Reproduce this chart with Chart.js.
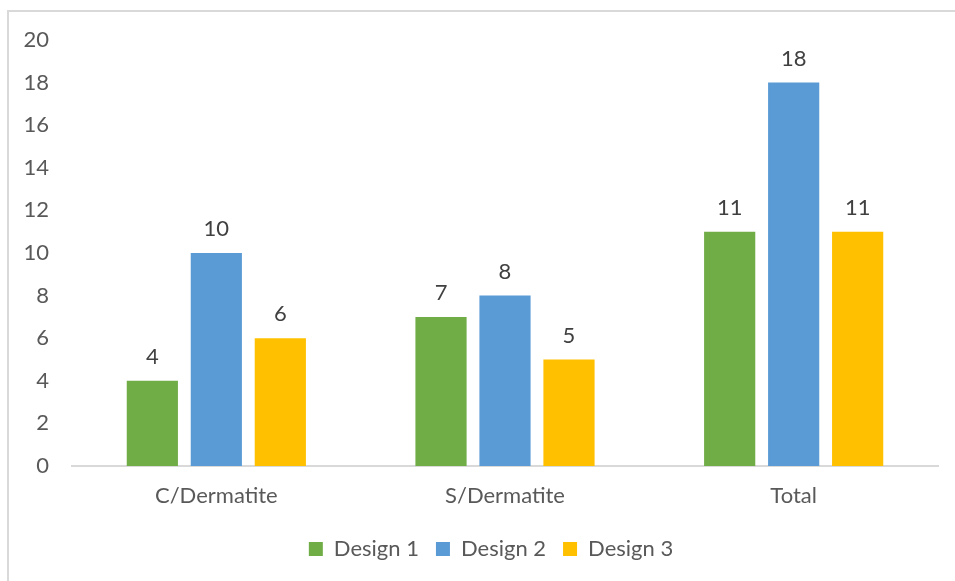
<!DOCTYPE html>
<html><head><meta charset="utf-8">
<script src="https://cdn.jsdelivr.net/npm/chart.js@4/dist/chart.umd.min.js"></script>
<style>
html,body{margin:0;padding:0;background:#fff;overflow:hidden;}
#wrap{position:relative;width:955px;height:581px;}
#frame{position:absolute;left:7px;top:10px;width:1000px;height:700px;border:2px solid #d9d9d9;box-sizing:border-box;}
canvas{position:absolute;left:0;top:0;}
</style></head>
<body>
<div id="wrap"><div id="frame"></div><canvas id="c" width="955" height="581"></canvas></div>
<script>
const categories = ["C/Dermatite", "S/Dermatite", "Total"];
const design1 = [4, 7, 11];
const design2 = [10, 8, 18];
const design3 = [6, 5, 11];
const seriesNames = ["Design 1", "Design 2", "Design 3"];
const yTicks = [0, 2, 4, 6, 8, 10, 12, 14, 16, 18, 20];

const FONT = "Lato, 'Open Sans', sans-serif";
const FS = 22;

const labelPlugin = {
  id: 'valLabels',
  afterLayout(chart) {
    if (chart.legend) { chart.legend.left += 18; chart.legend.right += 18; }
  },
  afterDatasetsDraw(chart) {
    const ctx = chart.ctx;
    ctx.save();
    ctx.font = FS + "px " + FONT;
    ctx.fillStyle = "#404040";
    ctx.textAlign = "center";
    ctx.textBaseline = "alphabetic";
    chart.data.datasets.forEach((ds, i) => {
      chart.getDatasetMeta(i).data.forEach((bar, j) => {
        ctx.fillText(String(ds.data[j]), bar.x, bar.y - 17);
      });
    });
    ctx.restore();
  }
};

new Chart(document.getElementById('c'), {
  type: 'bar',
  data: {
    labels: categories,
    datasets: [
      {label: seriesNames[0], data: design1, backgroundColor: '#70AD47'},
      {label: seriesNames[1], data: design2, backgroundColor: '#5B9BD5'},
      {label: seriesNames[2], data: design3, backgroundColor: '#FFC000'}
    ]
  },
  options: {
    responsive: false,
    animation: false,
    devicePixelRatio: 1,
    layout: {padding: {left: 8, right: 17, top: 40, bottom: 11}},
    datasets: {bar: {categoryPercentage: 0.665, barPercentage: 0.8}},
    scales: {
      x: {
        grid: {display: false, drawTicks: false},
        border: {display: true, color: '#d9d9d9', width: 2},
        ticks: {color: '#595959', font: {family: FONT, size: FS}, padding: 17},
        afterFit(s) { s.height = 55; }
      },
      y: {
        min: 0, max: 20,
        afterBuildTicks(s) { s.ticks = yTicks.map(v => ({value: v})); },
        grid: {display: false, drawTicks: false},
        border: {display: false},
        ticks: {color: '#595959', font: {family: FONT, size: FS}, padding: 23},
        afterFit(s) { s.width = 64; }
      }
    },
    plugins: {
      tooltip: {enabled: false},
      legend: {
        position: 'bottom',
        labels: {
          color: '#595959',
          font: {family: FONT, size: FS},
          boxWidth: 14, boxHeight: 14,
          padding: 17
        }
      }
    }
  },
  plugins: [labelPlugin]
});
</script>
</body></html>
